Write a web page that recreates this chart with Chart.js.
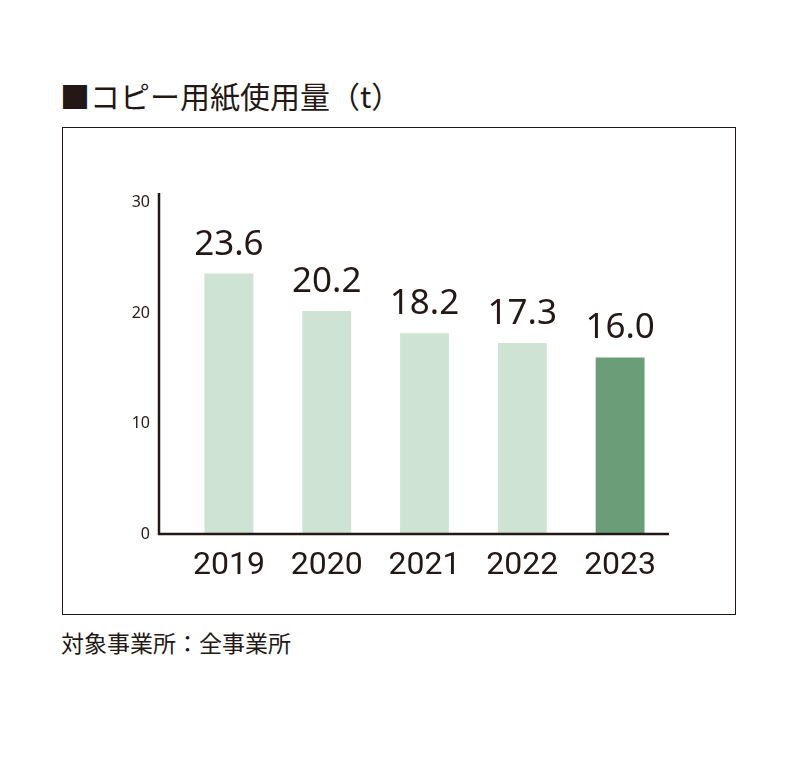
<!DOCTYPE html>
<html lang="ja">
<head>
<meta charset="UTF-8">
<title>コピー用紙使用量</title>
<script src="https://cdn.jsdelivr.net/npm/chart.js"></script>
<style>
  body { margin: 0; background: #fff; }
  #wrap { position: relative; width: 800px; height: 759px; }
  #title { position: absolute; left: 60px; top: 73px; font: 30px "Noto Sans CJK JP", sans-serif; color: #231815; white-space: nowrap; }
  #box { position: absolute; left: 62px; top: 127px; width: 672px; height: 486px; border: 1.5px solid #231815; }
  #note { position: absolute; left: 61px; top: 625px; font: 23px "Noto Sans CJK JP", sans-serif; color: #231815; white-space: nowrap; }
  canvas { position: absolute; left: 0; top: 0; }
</style>
</head>
<body>
<div id="wrap">
  <div id="title">■コピー用紙使用量（t）</div>
  <div id="box"></div>
  <div id="note">対象事業所：全事業所</div>
  <canvas id="paperChart" width="800" height="759"></canvas>
</div>
<script>
// データ
const years = ['2019', '2020', '2021', '2022', '2023'];
const usage = [23.6, 20.2, 18.2, 17.3, 16.0];
const yTicks = [0, 10, 20, 30];

const ink = '#231815';
const barColors = ['#cfe3d4', '#cfe3d4', '#cfe3d4', '#cfe3d4', '#6a9e79'];

// 軸線と数値ラベル
const axisAndLabels = {
  id: 'axisAndLabels',
  afterDatasetsDraw(chart) {
    const ctx = chart.ctx;
    const a = chart.chartArea;
    const axisX = a.left - 21;
    ctx.save();
    ctx.strokeStyle = ink;
    ctx.lineWidth = 2.5;
    ctx.beginPath();
    ctx.moveTo(axisX, a.top);
    ctx.lineTo(axisX, a.bottom);
    ctx.lineTo(a.right, a.bottom);
    ctx.stroke();

    ctx.fillStyle = ink;
    ctx.font = '35px "Noto Sans", sans-serif';
    ctx.textAlign = 'center';
    ctx.textBaseline = 'alphabetic';
    chart.getDatasetMeta(0).data.forEach((bar, i) => {
      ctx.fillText(usage[i].toFixed(1), bar.x, bar.y - 19);
    });
    ctx.restore();
  }
};

new Chart(document.getElementById('paperChart'), {
  type: 'bar',
  data: {
    labels: years,
    datasets: [{
      data: usage,
      backgroundColor: barColors,
      barPercentage: 0.5,
      categoryPercentage: 1
    }]
  },
  options: {
    responsive: false,
    animation: false,
    layout: { padding: { left: 120, right: 131, top: 193, bottom: 160 } },
    plugins: { legend: { display: false }, tooltip: { enabled: false } },
    scales: {
      x: {
        grid: { display: false, drawTicks: false },
        border: { display: false },
        ticks: {
          color: ink,
          padding: 13,
          font: { family: '"Liberation Sans Narrow", "Roboto", sans-serif', size: 32 }
        },
        afterFit(s) { s.height = 65; }
      },
      y: {
        min: 0,
        max: 30.9,
        grid: { display: false, drawTicks: false },
        border: { display: false },
        afterBuildTicks(s) { s.ticks = yTicks.map(v => ({ value: v })); },
        ticks: {
          color: ink,
          padding: 30,
          font: { family: '"Noto Sans", sans-serif', size: 16 }
        },
        afterFit(s) { s.width = 60; }
      }
    }
  },
  plugins: [axisAndLabels]
});
</script>
</body>
</html>
